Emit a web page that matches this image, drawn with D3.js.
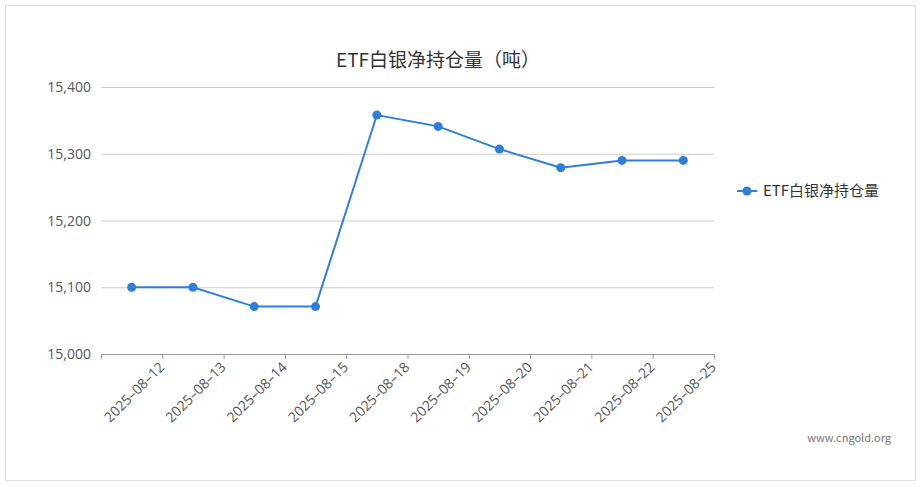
<!DOCTYPE html>
<html><head><meta charset="utf-8">
<script src="https://cdn.jsdelivr.net/npm/d3@7"></script>
<style>body{margin:0;background:#fff;font-family:"Noto Sans CJK SC","Noto Sans",sans-serif}</style>
</head><body>
<svg id="c" width="921" height="487"></svg>
<script>
const dates = ["2025-08-12","2025-08-13","2025-08-14","2025-08-15","2025-08-18","2025-08-19","2025-08-20","2025-08-21","2025-08-22","2025-08-25"];
const holdings = [15100,15100,15071,15071,15358,15341,15307,15279,15290,15290];
const yTicks = [15000,15100,15200,15300,15400];
const seriesName = "ETF白银净持仓量";

const svg = d3.select("#c");
svg.append("rect").attr("x",5.5).attr("y",5.5).attr("width",910).attr("height",475)
  .attr("fill","#fff").attr("stroke","#ddd");

const x = d3.scaleBand().domain(dates).range([101,714]);
const y = d3.scaleLinear().domain([15000,15400]).range([354,87]);

svg.append("text").attr("x",438).attr("y",67).attr("text-anchor","middle")
  .attr("font-size",19).attr("fill","#333").text("ETF白银净持仓量（吨）");

svg.append("g").selectAll("line").data(yTicks).join("line")
  .attr("x1",101).attr("x2",714).attr("y1",d=>y(d)+.5).attr("y2",d=>y(d)+.5)
  .attr("stroke",(d,i)=>i===0?"#999":"#ccc");
svg.append("g").selectAll("text").data(yTicks).join("text")
  .attr("x",91).attr("y",d=>y(d)+5).attr("text-anchor","end")
  .attr("font-size",14).attr("font-family","'Open Sans',sans-serif").attr("fill","#555").text(d3.format(","));

const gx = svg.append("g");
dates.forEach((d,i)=>{
  const bx = x(d)+x.bandwidth();
  gx.append("line").attr("x1",bx+.5).attr("x2",bx+.5).attr("y1",354).attr("y2",359).attr("stroke","#999");
  gx.append("text").attr("transform",`translate(${bx+3},${368}) rotate(-45)`)
    .attr("text-anchor","end").attr("font-size",14).attr("font-family","'Open Sans',sans-serif")
    .attr("fill","#555").text(d.replace(/-/g,"–"));
});
gx.append("line").attr("x1",101.5).attr("x2",101.5).attr("y1",354).attr("y2",359).attr("stroke","#999");

const cx = d=>x(d)+x.bandwidth()/2;
svg.append("path").datum(holdings)
  .attr("d",d3.line().x((v,i)=>cx(dates[i])).y(v=>y(v)))
  .attr("fill","none").attr("stroke","#2f7ed8").attr("stroke-width",2);
svg.append("g").selectAll("circle").data(holdings).join("circle")
  .attr("cx",(v,i)=>cx(dates[i])).attr("cy",v=>y(v)).attr("r",4.5).attr("fill","#2f7ed8");

svg.append("line").attr("x1",737).attr("x2",757).attr("y1",191).attr("y2",191).attr("stroke","#2f7ed8").attr("stroke-width",2);
svg.append("circle").attr("cx",747).attr("cy",191).attr("r",4.5).attr("fill","#2f7ed8");
svg.append("text").attr("x",763).attr("y",196).attr("font-size",15).attr("fill","#333").text(seriesName);

svg.append("text").attr("x",891).attr("y",442).attr("text-anchor","end")
  .attr("font-size",11).attr("fill","#777").text("www.cngold.org");
</script>
</body></html>
